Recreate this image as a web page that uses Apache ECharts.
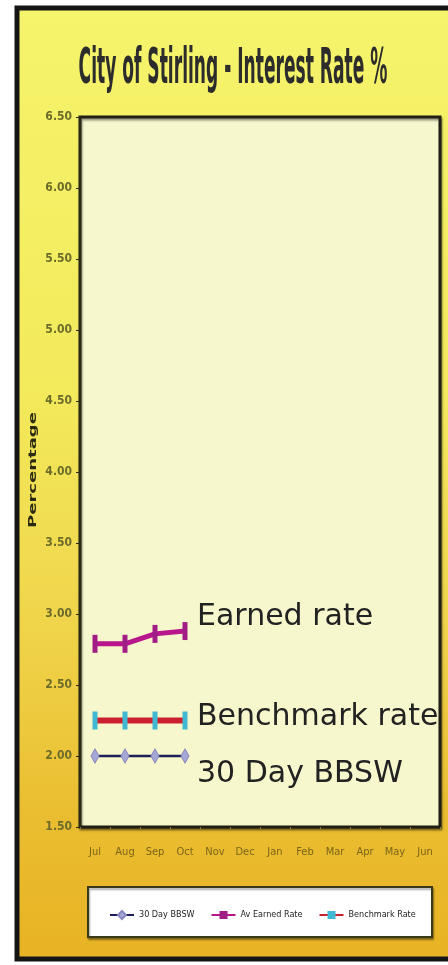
<!DOCTYPE html>
<html>
<head>
<meta charset="utf-8">
<script src="https://cdn.jsdelivr.net/npm/echarts@6/dist/echarts.min.js"></script>
<style>html,body{margin:0;padding:0;background:#fff}#c{width:448px;height:965px}</style>
</head>
<body>
<div id="c"></div>
<script>
const months = ['Jul','Aug','Sep','Oct','Nov','Dec','Jan','Feb','Mar','Apr','May','Jun'];
const bbsw = [2.00, 2.00, 2.00, 2.00];
const earned = [2.79, 2.79, 2.86, 2.88];
const benchmark = [2.25, 2.25, 2.25, 2.25];
const yTicks = {min: 1.5, max: 6.5, interval: 0.5};
const titleText = 'City of Stirling - Interest Rate %';

const chart = echarts.init(document.getElementById('c'), null, {renderer: 'canvas'});
const narrow = '"Liberation Sans Narrow", "DejaVu Sans Condensed", sans-serif';
const endLbl = (txt, off) => ({
  show: true, formatter: txt, offset: off, distance: 12,
  fontSize: 30, fontFamily: '"DejaVu Sans", sans-serif', color: '#222'
});

chart.setOption({
  backgroundColor: '#ffffff',
  animation: false,
  graphic: [
    {type: 'rect', z: -10, shape: {x: 17, y: 8, width: 445, height: 951},
     style: {fill: new echarts.graphic.LinearGradient(0, 0, 0, 1, [
       {offset: 0, color: '#f5f46c'}, {offset: 0.4, color: '#f3ea5c'},
       {offset: 0.65, color: '#f0d44a'}, {offset: 0.85, color: '#eabd30'},
       {offset: 1, color: '#e8b324'}]),
       stroke: '#151515', lineWidth: 5}},
    {type: 'text', z: 100, x: 233, y: 70, scaleX: 0.38,
     style: {text: titleText, font: 'bold 50px ' + narrow, fill: '#2c2c2c',
       textAlign: 'center', textVerticalAlign: 'middle',
       shadowColor: 'rgba(255,255,255,0.6)', shadowOffsetX: 1, shadowOffsetY: 1, shadowBlur: 1}},
    {type: 'text', z: 100, x: 33, y: 470, rotation: Math.PI / 2, scaleX: 1.8,
     style: {text: 'Percentage', font: 'bold 10px "DejaVu Sans", sans-serif', fill: '#2a2a10',
       textAlign: 'center', textVerticalAlign: 'middle'}},
    {type: 'rect', z: 3, shape: {x: 88, y: 887, width: 344, height: 50},
     style: {fill: '#ffffff', stroke: '#3a3a18', lineWidth: 2,
       shadowColor: 'rgba(0,0,0,0.35)', shadowOffsetX: 1, shadowOffsetY: 2, shadowBlur: 2}}
  ],
  grid: {left: 80, right: 8, top: 117, bottom: 138, show: true,
    backgroundColor: '#f7f7cd', borderColor: '#1e1e14', borderWidth: 3,
    shadowColor: 'rgba(0,0,0,0.4)', shadowOffsetX: 1, shadowOffsetY: 2, shadowBlur: 2},
  legend: {
    top: 905, left: 104, itemGap: 16, itemWidth: 24, itemHeight: 10,
    textStyle: {fontSize: 9, fontFamily: narrow, color: '#222'},
    data: ['30 Day BBSW', 'Av Earned Rate', 'Benchmark Rate']
  },
  xAxis: {
    type: 'category', data: months, boundaryGap: true,
    axisLine: {show: false},
    axisTick: {show: true, length: 3, lineStyle: {color: '#8a7a40'}},
    axisLabel: {fontSize: 11, fontFamily: narrow, color: '#7a6518', margin: 20}
  },
  yAxis: {
    type: 'value', min: yTicks.min, max: yTicks.max, interval: yTicks.interval,
    axisLine: {show: true, lineStyle: {color: '#2a2a14', width: 2}},
    axisTick: {show: true, length: 4, lineStyle: {color: '#2a2a14'}},
    splitLine: {show: false},
    axisLabel: {fontSize: 12, fontFamily: narrow, fontWeight: 'bold', color: '#6b6b2a', margin: 8,
      formatter: v => v.toFixed(2)}
  },
  series: [
    {name: '30 Day BBSW', type: 'line', data: bbsw, symbol: 'diamond', symbolSize: [8, 14],
     lineStyle: {color: '#1e1e5a', width: 2.5}, itemStyle: {color: '#a8a8d8', borderColor: '#8888c0', borderWidth: 1},
     endLabel: endLbl('30 Day BBSW', [0, 18])},
    {name: 'Av Earned Rate', type: 'line', data: earned, symbol: 'rect', symbolSize: [5, 18],
     lineStyle: {color: '#b8168c', width: 5}, itemStyle: {color: '#a01e86'},
     endLabel: endLbl('Earned rate', [0, -14])},
    {name: 'Benchmark Rate', type: 'line', data: benchmark, symbol: 'rect', symbolSize: [5, 18],
     lineStyle: {color: '#cc2030', width: 6}, itemStyle: {color: '#40b8d2'},
     endLabel: endLbl('Benchmark rate', [0, -3])}
  ]
});
</script>
</body>
</html>
